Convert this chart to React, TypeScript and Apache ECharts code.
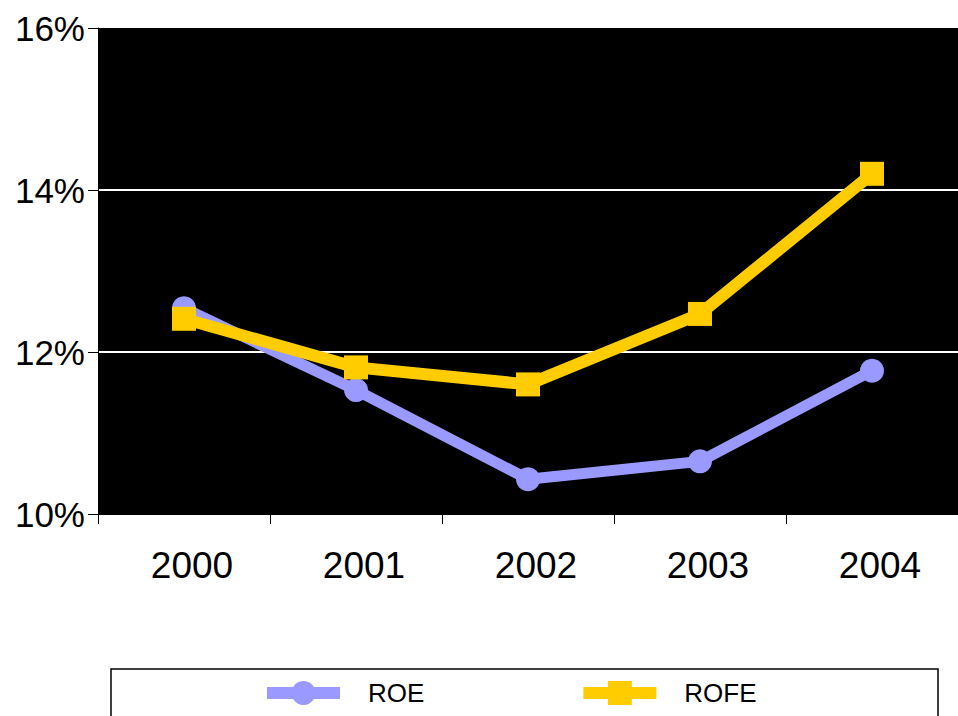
import React, { useEffect, useRef } from "react";
import * as echarts from "echarts";

const categories = ["2000", "2001", "2002", "2003", "2004"];
const roeValues = [12.54, 11.53, 10.43, 10.65, 11.77];
const rofeValues = [12.41, 11.81, 11.6, 12.47, 14.2];
const seriesNames = ["ROE", "ROFE"];
const yMin = 10;
const yMax = 16;
const yInterval = 2;

const FONT = "'Liberation Sans', Arial, sans-serif";

export default function App() {
  const ref = useRef<HTMLDivElement>(null);
  useEffect(() => {
    if (!ref.current) return;
    const chart = echarts.init(ref.current, undefined, { renderer: "svg" });
    chart.setOption({
      animation: false,
      textStyle: { fontFamily: FONT },
      grid: {
        left: 98,
        right: -7,
        top: 28,
        bottom: 202,
        show: true,
        backgroundColor: "#000000",
        borderWidth: 0,
      },
      xAxis: {
        type: "category",
        data: categories,
        boundaryGap: true,
        axisLine: { show: true, lineStyle: { color: "#000", width: 1 } },
        axisTick: { show: true, length: 10, lineStyle: { color: "#000", width: 1 } },
        axisLabel: {
          fontSize: 37,
          color: "#000",
          fontFamily: FONT,
          margin: 33,
          padding: [0, 0, 0, 16],
        },
        splitLine: { show: false },
      },
      yAxis: {
        type: "value",
        min: yMin,
        max: yMax,
        interval: yInterval,
        axisLine: { show: true, lineStyle: { color: "#000", width: 1 } },
        axisTick: { show: true, length: 10, lineStyle: { color: "#000", width: 1 } },
        axisLabel: {
          fontSize: 35,
          color: "#000",
          fontFamily: FONT,
          margin: 13,
          formatter: (v: number) => `${v}%`,
        },
        splitLine: {
          show: true,
          showMinLine: false,
          showMaxLine: false,
          lineStyle: { color: "#ffffff", width: 2 },
        },
      },
      legend: {
        data: seriesNames,
        left: 256,
        top: 675,
        itemWidth: 73,
        itemHeight: 30,
        itemGap: 153,
        lineStyle: { width: 12 },
        textStyle: {
          fontSize: 26,
          color: "#000",
          fontFamily: FONT,
          padding: [0, 0, 0, 23],
        },
      },
      graphic: [
        {
          type: "rect",
          shape: { x: 111, y: 669, width: 827, height: 70 },
          style: { fill: "none", stroke: "#000", lineWidth: 1.5 },
          silent: true,
        },
      ],
      series: [
        {
          name: seriesNames[0],
          type: "line",
          data: roeValues,
          symbol: "circle",
          symbolSize: 24,
          lineStyle: { color: "#9999FF", width: 11 },
          itemStyle: { color: "#9999FF" },
          z: 2,
        },
        {
          name: seriesNames[1],
          type: "line",
          data: rofeValues,
          symbol: "rect",
          symbolSize: 24,
          lineStyle: { color: "#FFCC00", width: 12 },
          itemStyle: { color: "#FFCC00" },
          z: 3,
        },
      ],
    });
    return () => chart.dispose();
  }, []);
  return <div ref={ref} style={{ width: 958, height: 716, position: "absolute", left: 0, top: 0 }} />;
}
